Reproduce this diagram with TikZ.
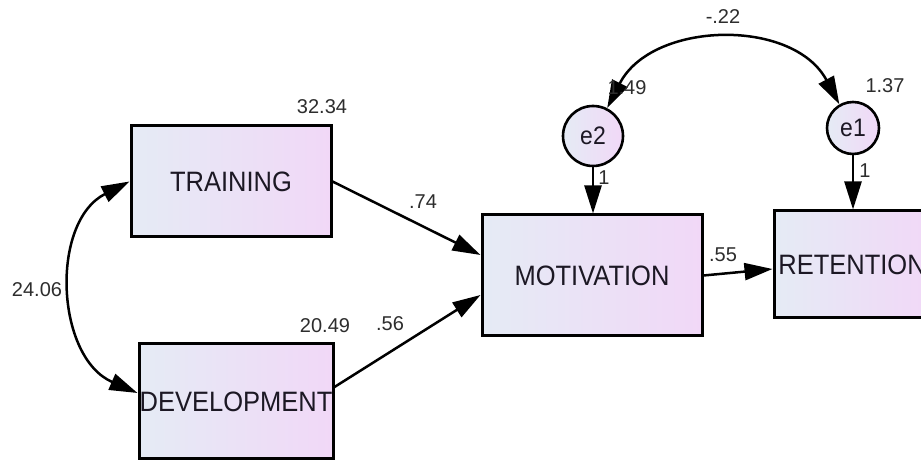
\documentclass[tikz,border=0pt]{standalone}
\usepackage{fontspec}
\setmainfont{Liberation Sans}
\usetikzlibrary{arrows.meta}
\definecolor{boxleft}{RGB}{229,235,245}
\definecolor{boxright}{RGB}{241,216,247}
\definecolor{ink}{RGB}{28,24,36}
\definecolor{numink}{RGB}{45,45,45}
\newcommand{\tallish}[1]{\scalebox{1}[1.1]{#1}}
\begin{document}
\begin{tikzpicture}[x=1pt,y=1pt,
  var/.style={draw=black, line width=3pt, left color=boxleft, right color=boxright,
    inner sep=0pt, text=ink, font=\fontsize{25.5}{30}\selectfont},
  err/.style={circle, draw=black, line width=2.6pt, left color=boxleft, right color=boxright,
    inner sep=0pt, text=ink, font=\fontsize{23}{28}\selectfont},
  est/.style={inner sep=0pt, text=numink, font=\fontsize{20}{24}\selectfont},
  reg/.style={line width=2.5pt, -{Triangle[length=28pt,width=17pt]}},
  cov/.style={line width=2.5pt, {Triangle[length=28pt,width=17pt]}-{Triangle[length=28pt,width=17pt]}},
]
\clip (0,0) rectangle (921,462);
\fill[white] (0,0) rectangle (921,462);

% observed variables
\node[var, minimum width=200pt, minimum height=111pt] (tr)  at (231,280.5) {\tallish{TRAINING}};
\node[var, minimum width=194pt, minimum height=115pt] (dev) at (236,60.5)  {\tallish{DEVELOPMENT}};
\node[var, minimum width=220pt, minimum height=121pt] (mot) at (592,186.5) {\tallish{MOTIVATION}};
\node[var, minimum width=156pt, minimum height=107pt] (ret) at (852,197.5) {\tallish{RETENTION}};

% error terms
\node[err, minimum size=60pt] (e2) at (593,326) {\tallish{e2}};
\node[err, minimum size=52pt] (e1) at (853,334) {\tallish{e1}};

% regression paths
\draw[reg] (tr.east) -- ([yshift=20.5pt]mot.west);
\draw[reg] ([yshift=14.5pt]dev.east) -- ([yshift=-19.5pt]mot.west);
\draw[reg] (mot.east) -- ([yshift=-4.5pt]ret.west);
\draw[reg] (e2.south) -- (e2.south |- mot.north);
\draw[reg] (e1.south) -- (e1.south |- ret.north);

% covariances
\draw[cov] (tr.west) to[out=207, in=156.5, looseness=1.08] ([yshift=8.5pt]dev.west);
\draw[cov] (e2.63) to[out=63, in=118, looseness=1.08] (e1.120);

% estimates
\node[est] (vtr)  at (322,355) {32.34};
\node[est] (vdev) at (325,136) {20.49};
\node[est] (ctd)  at (37,172)  {24.06};
\node[est] (btr)  at (423,260) {.74};
\node[est] (bdev) at (390,138) {.56};
\node[est] (bmot) at (723,207) {.55};
\node[est] (cee)  at (723,445) {-.22};
\node[est] (ve2)  at (627,374) {1.49};
\node[est] (ve1)  at (885,376) {1.37};
\node[est] (le2)  at (604,284) {1};
\node[est] (le1)  at (865,291) {1};
\end{tikzpicture}
\end{document}
